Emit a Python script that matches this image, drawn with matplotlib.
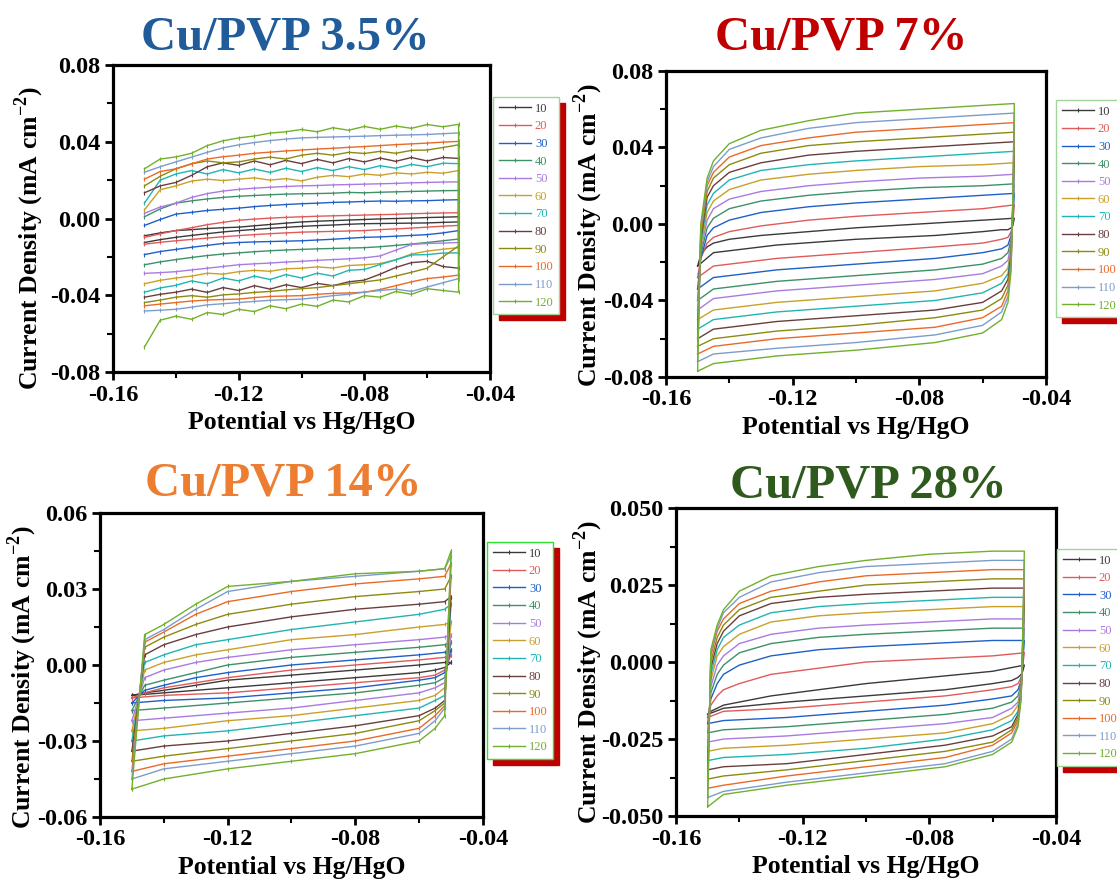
import matplotlib
matplotlib.use("Agg")
import matplotlib.pyplot as plt
from matplotlib.ticker import MultipleLocator, FormatStrFormatter

plt.rcParams['font.family'] = ['Liberation Serif', 'DejaVu Serif']
plt.rcParams['font.weight'] = 'bold'
plt.rcParams['mathtext.fontset'] = 'custom'
plt.rcParams['mathtext.rm'] = 'Liberation Serif'
plt.rcParams['mathtext.bf'] = 'Liberation Serif:bold'

rates = ['10', '20', '30', '40', '50', '60', '70', '80', '90', '100', '110', '120']
colors = ['#3a3a3a', '#e05a5a', '#1f5fc8', '#3e9068', '#a97be0', '#c9a02a',
          '#22b4b4', '#6a3e3e', '#8c8a10', '#e86a28', '#7c9ccc', '#72b02c']

# ---------------- Cu/PVP 3.5% ----------------
E1 = [-0.150, -0.145, -0.140, -0.135, -0.130, -0.125, -0.120, -0.115, -0.110, -0.105, -0.100,
      -0.095, -0.090, -0.085, -0.080, -0.075, -0.070, -0.065, -0.060, -0.055, -0.050]
up1 = [
    [-0.0090, -0.0075, -0.0063, -0.0058, -0.0052, -0.0048, -0.0045, -0.0038, -0.0031, -0.0024, -0.0018,
     -0.0014, -0.0011, -0.0008, -0.0005, -0.0002, 0.0000, 0.0002, 0.0005, 0.0007, 0.0009],
    [-0.0098, -0.0080, -0.0063, -0.0048, -0.0032, -0.0020, -0.0009, -0.0003, 0.0002, 0.0006, 0.0009,
     0.0012, 0.0014, 0.0016, 0.0018, 0.0020, 0.0022, 0.0025, 0.0027, 0.0029, 0.0030],
    [-0.0036, -0.0005, 0.0023, 0.0032, 0.0042, 0.0048, 0.0054, 0.0062, 0.0068, 0.0073, 0.0077,
     0.0080, 0.0084, 0.0086, 0.0089, 0.0091, 0.0090, 0.0092, 0.0093, 0.0096, 0.0098],
    [0.0009, 0.0050, 0.0080, 0.0092, 0.0102, 0.0110, 0.0116, 0.0120, 0.0124, 0.0127, 0.0129,
     0.0130, 0.0132, 0.0136, 0.0134, 0.0137, 0.0139, 0.0141, 0.0143, 0.0145, 0.0146],
    [0.0027, 0.0060, 0.0080, 0.0110, 0.0130, 0.0143, 0.0152, 0.0158, 0.0163, 0.0167, 0.0170,
     0.0172, 0.0175, 0.0177, 0.0179, 0.0181, 0.0183, 0.0186, 0.0188, 0.0190, 0.0191],
    [0.0045, 0.0150, 0.0170, 0.0195, 0.0205, 0.0198, 0.0205, 0.0212, 0.0200, 0.0208, 0.0196,
     0.0215, 0.0225, 0.0218, 0.0232, 0.0225, 0.0238, 0.0232, 0.0241, 0.0236, 0.0250],
    [0.0080, 0.0200, 0.0232, 0.0250, 0.0232, 0.0255, 0.0238, 0.0258, 0.0240, 0.0262, 0.0245,
     0.0265, 0.0250, 0.0270, 0.0255, 0.0275, 0.0262, 0.0282, 0.0270, 0.0288, 0.0286],
    [0.0134, 0.0170, 0.0188, 0.0225, 0.0270, 0.0290, 0.0277, 0.0300, 0.0280, 0.0303, 0.0286,
     0.0308, 0.0290, 0.0312, 0.0295, 0.0315, 0.0298, 0.0318, 0.0300, 0.0318, 0.0313],
    [0.0170, 0.0220, 0.0259, 0.0285, 0.0300, 0.0290, 0.0295, 0.0310, 0.0320, 0.0310, 0.0330,
     0.0340, 0.0330, 0.0345, 0.0339, 0.0350, 0.0340, 0.0355, 0.0357, 0.0370, 0.0384],
    [0.0205, 0.0245, 0.0259, 0.0285, 0.0310, 0.0322, 0.0330, 0.0340, 0.0346, 0.0352, 0.0357,
     0.0362, 0.0366, 0.0371, 0.0375, 0.0380, 0.0385, 0.0389, 0.0393, 0.0398, 0.0402],
    [0.0241, 0.0270, 0.0295, 0.0320, 0.0345, 0.0368, 0.0384, 0.0396, 0.0406, 0.0414, 0.0420,
     0.0423, 0.0425, 0.0427, 0.0429, 0.0432, 0.0434, 0.0436, 0.0438, 0.0442, 0.0446],
    [0.0259, 0.0310, 0.0321, 0.0340, 0.0380, 0.0405, 0.0420, 0.0430, 0.0445, 0.0452, 0.0464,
     0.0452, 0.0473, 0.0460, 0.0480, 0.0465, 0.0482, 0.0470, 0.0490, 0.0478, 0.0491],
]
dn1 = [
    [-0.0125, -0.0110, -0.0098, -0.0088, -0.0079, -0.0070, -0.0063, -0.0057, -0.0051, -0.0046, -0.0041,
     -0.0037, -0.0034, -0.0030, -0.0027, -0.0026, -0.0025, -0.0024, -0.0023, -0.0020, -0.0018],
    [-0.0134, -0.0124, -0.0116, -0.0109, -0.0102, -0.0095, -0.0089, -0.0084, -0.0079, -0.0075, -0.0071,
     -0.0069, -0.0067, -0.0065, -0.0063, -0.0058, -0.0054, -0.0050, -0.0045, -0.0040, -0.0036],
    [-0.0188, -0.0172, -0.0161, -0.0150, -0.0140, -0.0130, -0.0125, -0.0122, -0.0120, -0.0118, -0.0116,
     -0.0112, -0.0108, -0.0103, -0.0098, -0.0096, -0.0092, -0.0088, -0.0084, -0.0075, -0.0063],
    [-0.0241, -0.0226, -0.0214, -0.0203, -0.0193, -0.0185, -0.0179, -0.0173, -0.0168, -0.0164, -0.0161,
     -0.0158, -0.0156, -0.0154, -0.0152, -0.0147, -0.0140, -0.0133, -0.0125, -0.0116, -0.0107],
    [-0.0286, -0.0282, -0.0277, -0.0268, -0.0259, -0.0250, -0.0241, -0.0236, -0.0232, -0.0227, -0.0223,
     -0.0218, -0.0214, -0.0210, -0.0205, -0.0195, -0.0165, -0.0135, -0.0130, -0.0128, -0.0125],
    [-0.0340, -0.0322, -0.0310, -0.0300, -0.0285, -0.0290, -0.0277, -0.0270, -0.0275, -0.0262, -0.0259,
     -0.0252, -0.0258, -0.0245, -0.0241, -0.0235, -0.0215, -0.0185, -0.0170, -0.0160, -0.0152],
    [-0.0384, -0.0362, -0.0348, -0.0325, -0.0340, -0.0310, -0.0325, -0.0300, -0.0318, -0.0292, -0.0310,
     -0.0285, -0.0300, -0.0270, -0.0265, -0.0240, -0.0215, -0.0190, -0.0188, -0.0180, -0.0179],
    [-0.0410, -0.0395, -0.0384, -0.0368, -0.0385, -0.0360, -0.0375, -0.0350, -0.0368, -0.0345, -0.0360,
     -0.0338, -0.0350, -0.0330, -0.0321, -0.0290, -0.0255, -0.0230, -0.0223, -0.0250, -0.0259],
    [-0.0438, -0.0425, -0.0410, -0.0402, -0.0410, -0.0398, -0.0393, -0.0385, -0.0380, -0.0372, -0.0366,
     -0.0360, -0.0350, -0.0340, -0.0330, -0.0320, -0.0300, -0.0280, -0.0259, -0.0200, -0.0143],
    [-0.0455, -0.0446, -0.0438, -0.0430, -0.0425, -0.0422, -0.0420, -0.0412, -0.0406, -0.0404, -0.0402,
     -0.0395, -0.0390, -0.0388, -0.0384, -0.0370, -0.0350, -0.0330, -0.0313, -0.0305, -0.0295],
    [-0.0482, -0.0478, -0.0473, -0.0462, -0.0450, -0.0444, -0.0438, -0.0432, -0.0426, -0.0423, -0.0420,
     -0.0412, -0.0402, -0.0395, -0.0384, -0.0375, -0.0368, -0.0380, -0.0357, -0.0335, -0.0313],
    [-0.0670, -0.0530, -0.0509, -0.0525, -0.0490, -0.0500, -0.0473, -0.0485, -0.0455, -0.0470, -0.0446,
     -0.0458, -0.0425, -0.0435, -0.0402, -0.0410, -0.0380, -0.0395, -0.0366, -0.0375, -0.0384],
]

# ---------------- Cu/PVP 7% ----------------
E2_up = [-0.150, -0.149, -0.147, -0.145, -0.140, -0.130, -0.115, -0.100, -0.080, -0.060, -0.050]
E2_dn = [-0.050, -0.0505, -0.051, -0.052, -0.054, -0.060, -0.075, -0.100, -0.125, -0.145, -0.150]
up2 = [
    [-0.022, -0.016, -0.012, -0.010, -0.008, -0.006, -0.004, -0.002, 0.000, 0.002, 0.003],
    [-0.028, -0.018, -0.010, -0.007, -0.004, -0.001, 0.002, 0.004, 0.006, 0.008, 0.010],
    [-0.034, -0.018, -0.006, -0.002, 0.002, 0.006, 0.009, 0.011, 0.013, 0.015, 0.016],
    [-0.040, -0.016, -0.002, 0.003, 0.008, 0.012, 0.015, 0.017, 0.019, 0.020, 0.021],
    [-0.045, -0.014, 0.002, 0.008, 0.013, 0.017, 0.020, 0.022, 0.024, 0.025, 0.026],
    [-0.050, -0.012, 0.006, 0.012, 0.018, 0.023, 0.026, 0.028, 0.030, 0.031, 0.032],
    [-0.055, -0.010, 0.010, 0.016, 0.023, 0.028, 0.031, 0.033, 0.035, 0.037, 0.038],
    [-0.060, -0.008, 0.014, 0.020, 0.027, 0.032, 0.036, 0.038, 0.040, 0.042, 0.043],
    [-0.064, -0.006, 0.017, 0.024, 0.031, 0.037, 0.041, 0.043, 0.045, 0.047, 0.048],
    [-0.068, -0.004, 0.020, 0.027, 0.035, 0.041, 0.045, 0.048, 0.050, 0.052, 0.053],
    [-0.072, -0.002, 0.022, 0.030, 0.039, 0.045, 0.050, 0.053, 0.055, 0.057, 0.058],
    [-0.077, 0.000, 0.024, 0.033, 0.042, 0.049, 0.054, 0.058, 0.060, 0.062, 0.063],
]
dn2 = [
    [0.003, -0.001, -0.002, -0.003, -0.003, -0.004, -0.006, -0.008, -0.011, -0.015, -0.022],
    [0.010, 0.000, -0.004, -0.007, -0.008, -0.010, -0.012, -0.015, -0.018, -0.022, -0.028],
    [0.016, 0.002, -0.006, -0.011, -0.013, -0.015, -0.018, -0.021, -0.024, -0.028, -0.034],
    [0.021, 0.003, -0.008, -0.015, -0.018, -0.021, -0.024, -0.027, -0.030, -0.034, -0.040],
    [0.026, 0.004, -0.010, -0.019, -0.022, -0.026, -0.029, -0.032, -0.035, -0.039, -0.045],
    [0.032, 0.005, -0.012, -0.023, -0.027, -0.031, -0.035, -0.038, -0.041, -0.045, -0.050],
    [0.038, 0.006, -0.014, -0.026, -0.031, -0.036, -0.040, -0.043, -0.046, -0.050, -0.055],
    [0.043, 0.007, -0.016, -0.029, -0.035, -0.041, -0.045, -0.048, -0.051, -0.055, -0.060],
    [0.048, 0.008, -0.018, -0.032, -0.039, -0.045, -0.049, -0.053, -0.056, -0.060, -0.064],
    [0.053, 0.009, -0.020, -0.035, -0.043, -0.049, -0.054, -0.057, -0.060, -0.064, -0.068],
    [0.058, 0.010, -0.022, -0.038, -0.046, -0.053, -0.058, -0.062, -0.065, -0.068, -0.072],
    [0.063, 0.011, -0.024, -0.041, -0.050, -0.057, -0.062, -0.066, -0.069, -0.073, -0.077],
]

# ---------------- Cu/PVP 14% ----------------
E3_up = [-0.150, -0.146, -0.140, -0.130, -0.120, -0.100, -0.080, -0.060, -0.052, -0.050]
E3_dn = [-0.050, -0.052, -0.055, -0.060, -0.080, -0.100, -0.120, -0.140, -0.150]
up3 = [
    [-0.012, -0.011, -0.010, -0.008, -0.006, -0.004, -0.002, 0.000, 0.001, 0.001],
    [-0.013, -0.011, -0.009, -0.007, -0.005, -0.002, 0.000, 0.002, 0.003, 0.004],
    [-0.015, -0.010, -0.008, -0.005, -0.003, 0.000, 0.002, 0.004, 0.005, 0.006],
    [-0.018, -0.008, -0.006, -0.003, 0.000, 0.003, 0.005, 0.007, 0.008, 0.009],
    [-0.022, -0.005, -0.002, 0.001, 0.003, 0.006, 0.008, 0.010, 0.011, 0.012],
    [-0.026, -0.002, 0.001, 0.004, 0.006, 0.010, 0.012, 0.015, 0.016, 0.017],
    [-0.030, 0.001, 0.004, 0.008, 0.010, 0.014, 0.017, 0.020, 0.022, 0.024],
    [-0.034, 0.004, 0.008, 0.012, 0.015, 0.019, 0.022, 0.024, 0.025, 0.027],
    [-0.038, 0.007, 0.011, 0.016, 0.020, 0.024, 0.027, 0.029, 0.030, 0.035],
    [-0.042, 0.009, 0.013, 0.020, 0.025, 0.029, 0.032, 0.034, 0.035, 0.040],
    [-0.045, 0.010, 0.014, 0.022, 0.029, 0.033, 0.035, 0.037, 0.038, 0.043],
    [-0.049, 0.012, 0.016, 0.024, 0.031, 0.033, 0.036, 0.037, 0.038, 0.045],
]
dn3 = [
    [0.001, -0.001, -0.002, -0.003, -0.005, -0.007, -0.009, -0.011, -0.012],
    [0.004, -0.002, -0.004, -0.005, -0.007, -0.009, -0.011, -0.012, -0.013],
    [0.006, -0.003, -0.005, -0.006, -0.009, -0.011, -0.013, -0.014, -0.015],
    [0.009, -0.005, -0.007, -0.008, -0.011, -0.013, -0.015, -0.017, -0.018],
    [0.012, -0.007, -0.009, -0.011, -0.014, -0.017, -0.019, -0.021, -0.022],
    [0.017, -0.009, -0.012, -0.014, -0.017, -0.020, -0.022, -0.025, -0.026],
    [0.024, -0.012, -0.014, -0.017, -0.020, -0.023, -0.026, -0.028, -0.030],
    [0.027, -0.014, -0.017, -0.020, -0.024, -0.027, -0.030, -0.032, -0.034],
    [0.035, -0.015, -0.018, -0.022, -0.027, -0.030, -0.033, -0.036, -0.038],
    [0.040, -0.016, -0.020, -0.025, -0.030, -0.033, -0.036, -0.039, -0.042],
    [0.043, -0.017, -0.022, -0.027, -0.032, -0.035, -0.038, -0.041, -0.045],
    [0.045, -0.020, -0.025, -0.030, -0.035, -0.038, -0.041, -0.045, -0.049],
]

# ---------------- Cu/PVP 28% ----------------
E4_up = [-0.150, -0.149, -0.147, -0.145, -0.140, -0.130, -0.115, -0.100, -0.080, -0.060, -0.050]
E4_dn = [-0.050, -0.0505, -0.051, -0.052, -0.054, -0.060, -0.075, -0.100, -0.125, -0.145, -0.150]
up4 = [
    [-0.017, -0.016, -0.015, -0.014, -0.013, -0.011, -0.009, -0.007, -0.005, -0.003, -0.001],
    [-0.018, -0.014, -0.011, -0.009, -0.007, -0.004, -0.002, 0.000, 0.001, 0.002, 0.003],
    [-0.020, -0.012, -0.007, -0.004, -0.001, 0.002, 0.004, 0.005, 0.006, 0.007, 0.007],
    [-0.023, -0.010, -0.004, -0.001, 0.003, 0.006, 0.008, 0.009, 0.010, 0.011, 0.011],
    [-0.026, -0.008, -0.001, 0.002, 0.006, 0.009, 0.011, 0.012, 0.013, 0.014, 0.014],
    [-0.029, -0.006, 0.002, 0.005, 0.009, 0.013, 0.015, 0.016, 0.017, 0.018, 0.018],
    [-0.032, -0.004, 0.004, 0.008, 0.012, 0.016, 0.018, 0.019, 0.020, 0.021, 0.021],
    [-0.035, -0.002, 0.006, 0.010, 0.015, 0.019, 0.021, 0.022, 0.023, 0.024, 0.024],
    [-0.038, 0.000, 0.008, 0.012, 0.017, 0.021, 0.023, 0.025, 0.026, 0.027, 0.027],
    [-0.041, 0.002, 0.010, 0.014, 0.019, 0.023, 0.026, 0.028, 0.029, 0.030, 0.030],
    [-0.044, 0.003, 0.011, 0.016, 0.021, 0.026, 0.029, 0.031, 0.032, 0.033, 0.033],
    [-0.047, 0.004, 0.012, 0.017, 0.023, 0.028, 0.031, 0.033, 0.035, 0.036, 0.036],
]
dn4 = [
    [-0.001, -0.003, -0.004, -0.005, -0.006, -0.007, -0.009, -0.011, -0.013, -0.015, -0.017],
    [0.003, -0.001, -0.005, -0.007, -0.008, -0.009, -0.011, -0.013, -0.015, -0.016, -0.018],
    [0.007, 0.000, -0.006, -0.009, -0.011, -0.012, -0.014, -0.016, -0.018, -0.019, -0.020],
    [0.011, 0.001, -0.007, -0.011, -0.013, -0.015, -0.017, -0.019, -0.021, -0.022, -0.023],
    [0.014, 0.002, -0.008, -0.013, -0.015, -0.018, -0.020, -0.022, -0.024, -0.025, -0.026],
    [0.018, 0.003, -0.008, -0.014, -0.017, -0.020, -0.023, -0.025, -0.027, -0.028, -0.029],
    [0.021, 0.004, -0.009, -0.016, -0.019, -0.022, -0.025, -0.028, -0.030, -0.031, -0.032],
    [0.024, 0.005, -0.010, -0.017, -0.021, -0.024, -0.027, -0.030, -0.033, -0.034, -0.035],
    [0.027, 0.006, -0.010, -0.018, -0.022, -0.026, -0.029, -0.032, -0.035, -0.037, -0.038],
    [0.030, 0.007, -0.011, -0.019, -0.023, -0.027, -0.031, -0.034, -0.037, -0.040, -0.041],
    [0.033, 0.008, -0.011, -0.020, -0.025, -0.029, -0.033, -0.036, -0.039, -0.042, -0.044],
    [0.036, 0.010, -0.012, -0.021, -0.026, -0.030, -0.034, -0.037, -0.040, -0.043, -0.047],
]

panels = [
    dict(rect=[0.1012, 0.5782, 0.3375, 0.3481], Eu=E1, Ed=E1[::-1], up=up1, dn=[r[::-1] for r in dn1],
         ylim=(-0.08, 0.08), ymaj=0.04, fmt='%.2f', title='Cu/PVP 3.5%', tcol='#1f5c99',
         tpos=(0.255, 0.957), yl=(0.026, 0.730), leg=(0.4414, 0.890), legc='#9fd49a', mk=True),
    dict(rect=[0.5962, 0.5726, 0.3402, 0.3469], Eu=E2_up, Ed=E2_dn, up=up2, dn=dn2,
         ylim=(-0.08, 0.08), ymaj=0.04, fmt='%.2f', title='Cu/PVP 7%', tcol='#c00000',
         tpos=(0.753, 0.957), yl=(0.527, 0.733), leg=(0.9454, 0.8866), legc='#9fd49a', mk=False),
    dict(rect=[0.0895, 0.0737, 0.3429, 0.3447], Eu=E3_up, Ed=E3_dn, up=up3, dn=dn3,
         ylim=(-0.06, 0.06), ymaj=0.03, fmt='%.2f', title='Cu/PVP 14%', tcol='#ed7d31',
         tpos=(0.254, 0.452), yl=(0.020, 0.232), leg=(0.436, 0.3855), legc='#2ee02e', mk=True),
    dict(rect=[0.6052, 0.0748, 0.3402, 0.3492], Eu=E4_up, Ed=E4_dn, up=up4, dn=dn4,
         ylim=(-0.05, 0.05), ymaj=0.025, fmt='%.3f', title='Cu/PVP 28%', tcol='#2f5a1e',
         tpos=(0.777, 0.449), yl=(0.527, 0.238), leg=(0.9463, 0.3776), legc='#9fd49a', mk=False),
]

fig = plt.figure(figsize=(11.17, 8.82), dpi=100)

for p in panels:
    ax = fig.add_axes(p['rect'])
    for i in range(len(rates)):
        xs = list(p['Eu']) + list(p['Ed'])
        ys = list(p['up'][i]) + list(p['dn'][i])
        ax.plot(xs, ys, color=colors[i], lw=1.0, label=rates[i],
                marker='|', markersize=3 if p['mk'] else 0, markeredgewidth=0.8)
    ax.set_xlim(-0.16, -0.04)
    ax.set_ylim(*p['ylim'])
    ax.xaxis.set_major_locator(MultipleLocator(0.04))
    ax.xaxis.set_minor_locator(MultipleLocator(0.02))
    ax.yaxis.set_major_locator(MultipleLocator(p['ymaj']))
    ax.yaxis.set_minor_locator(MultipleLocator(p['ymaj'] / 2))
    ax.xaxis.set_major_formatter(FormatStrFormatter('%.2f'))
    ax.yaxis.set_major_formatter(FormatStrFormatter(p['fmt']))
    ax.tick_params(which='major', direction='out', length=6, width=2, labelsize=17.5, pad=3)
    ax.tick_params(which='minor', direction='out', length=4, width=1.5)
    for s in ax.spines.values():
        s.set_linewidth(2.3)
    for lab in ax.get_xticklabels() + ax.get_yticklabels():
        lab.set_fontweight('bold')
    ax.set_xlabel('Potential vs Hg/HgO', fontsize=18.5, fontweight='bold', labelpad=4)
    fig.text(p['yl'][0], p['yl'][1], 'Current Density (mA cm$^{-2}$)',
             rotation=90, ha='center', va='center', fontsize=18.5, fontweight='bold')
    fig.text(p['tpos'][0], p['tpos'][1], p['title'], ha='center', va='center',
             fontsize=35, fontweight='bold', color=p['tcol'])
    h, l = ax.get_legend_handles_labels()
    leg = fig.legend(h, l, loc='upper left', bbox_to_anchor=p['leg'], borderaxespad=0,
                     fancybox=False, frameon=True, edgecolor=p['legc'], framealpha=1,
                     prop={'family': 'Liberation Serif', 'size': 9, 'weight': 'normal'},
                     labelcolor='linecolor', handlelength=2.6, handletextpad=0.3,
                     labelspacing=0.45, borderpad=0.45,
                     shadow={'ox': 4, 'oy': -4, 'facecolor': '#c00000',
                             'edgecolor': '#c00000', 'alpha': 1})
    for lh in leg.legend_handles:
        lh.set_markersize(3)

fig.savefig('out.png', dpi=100)
